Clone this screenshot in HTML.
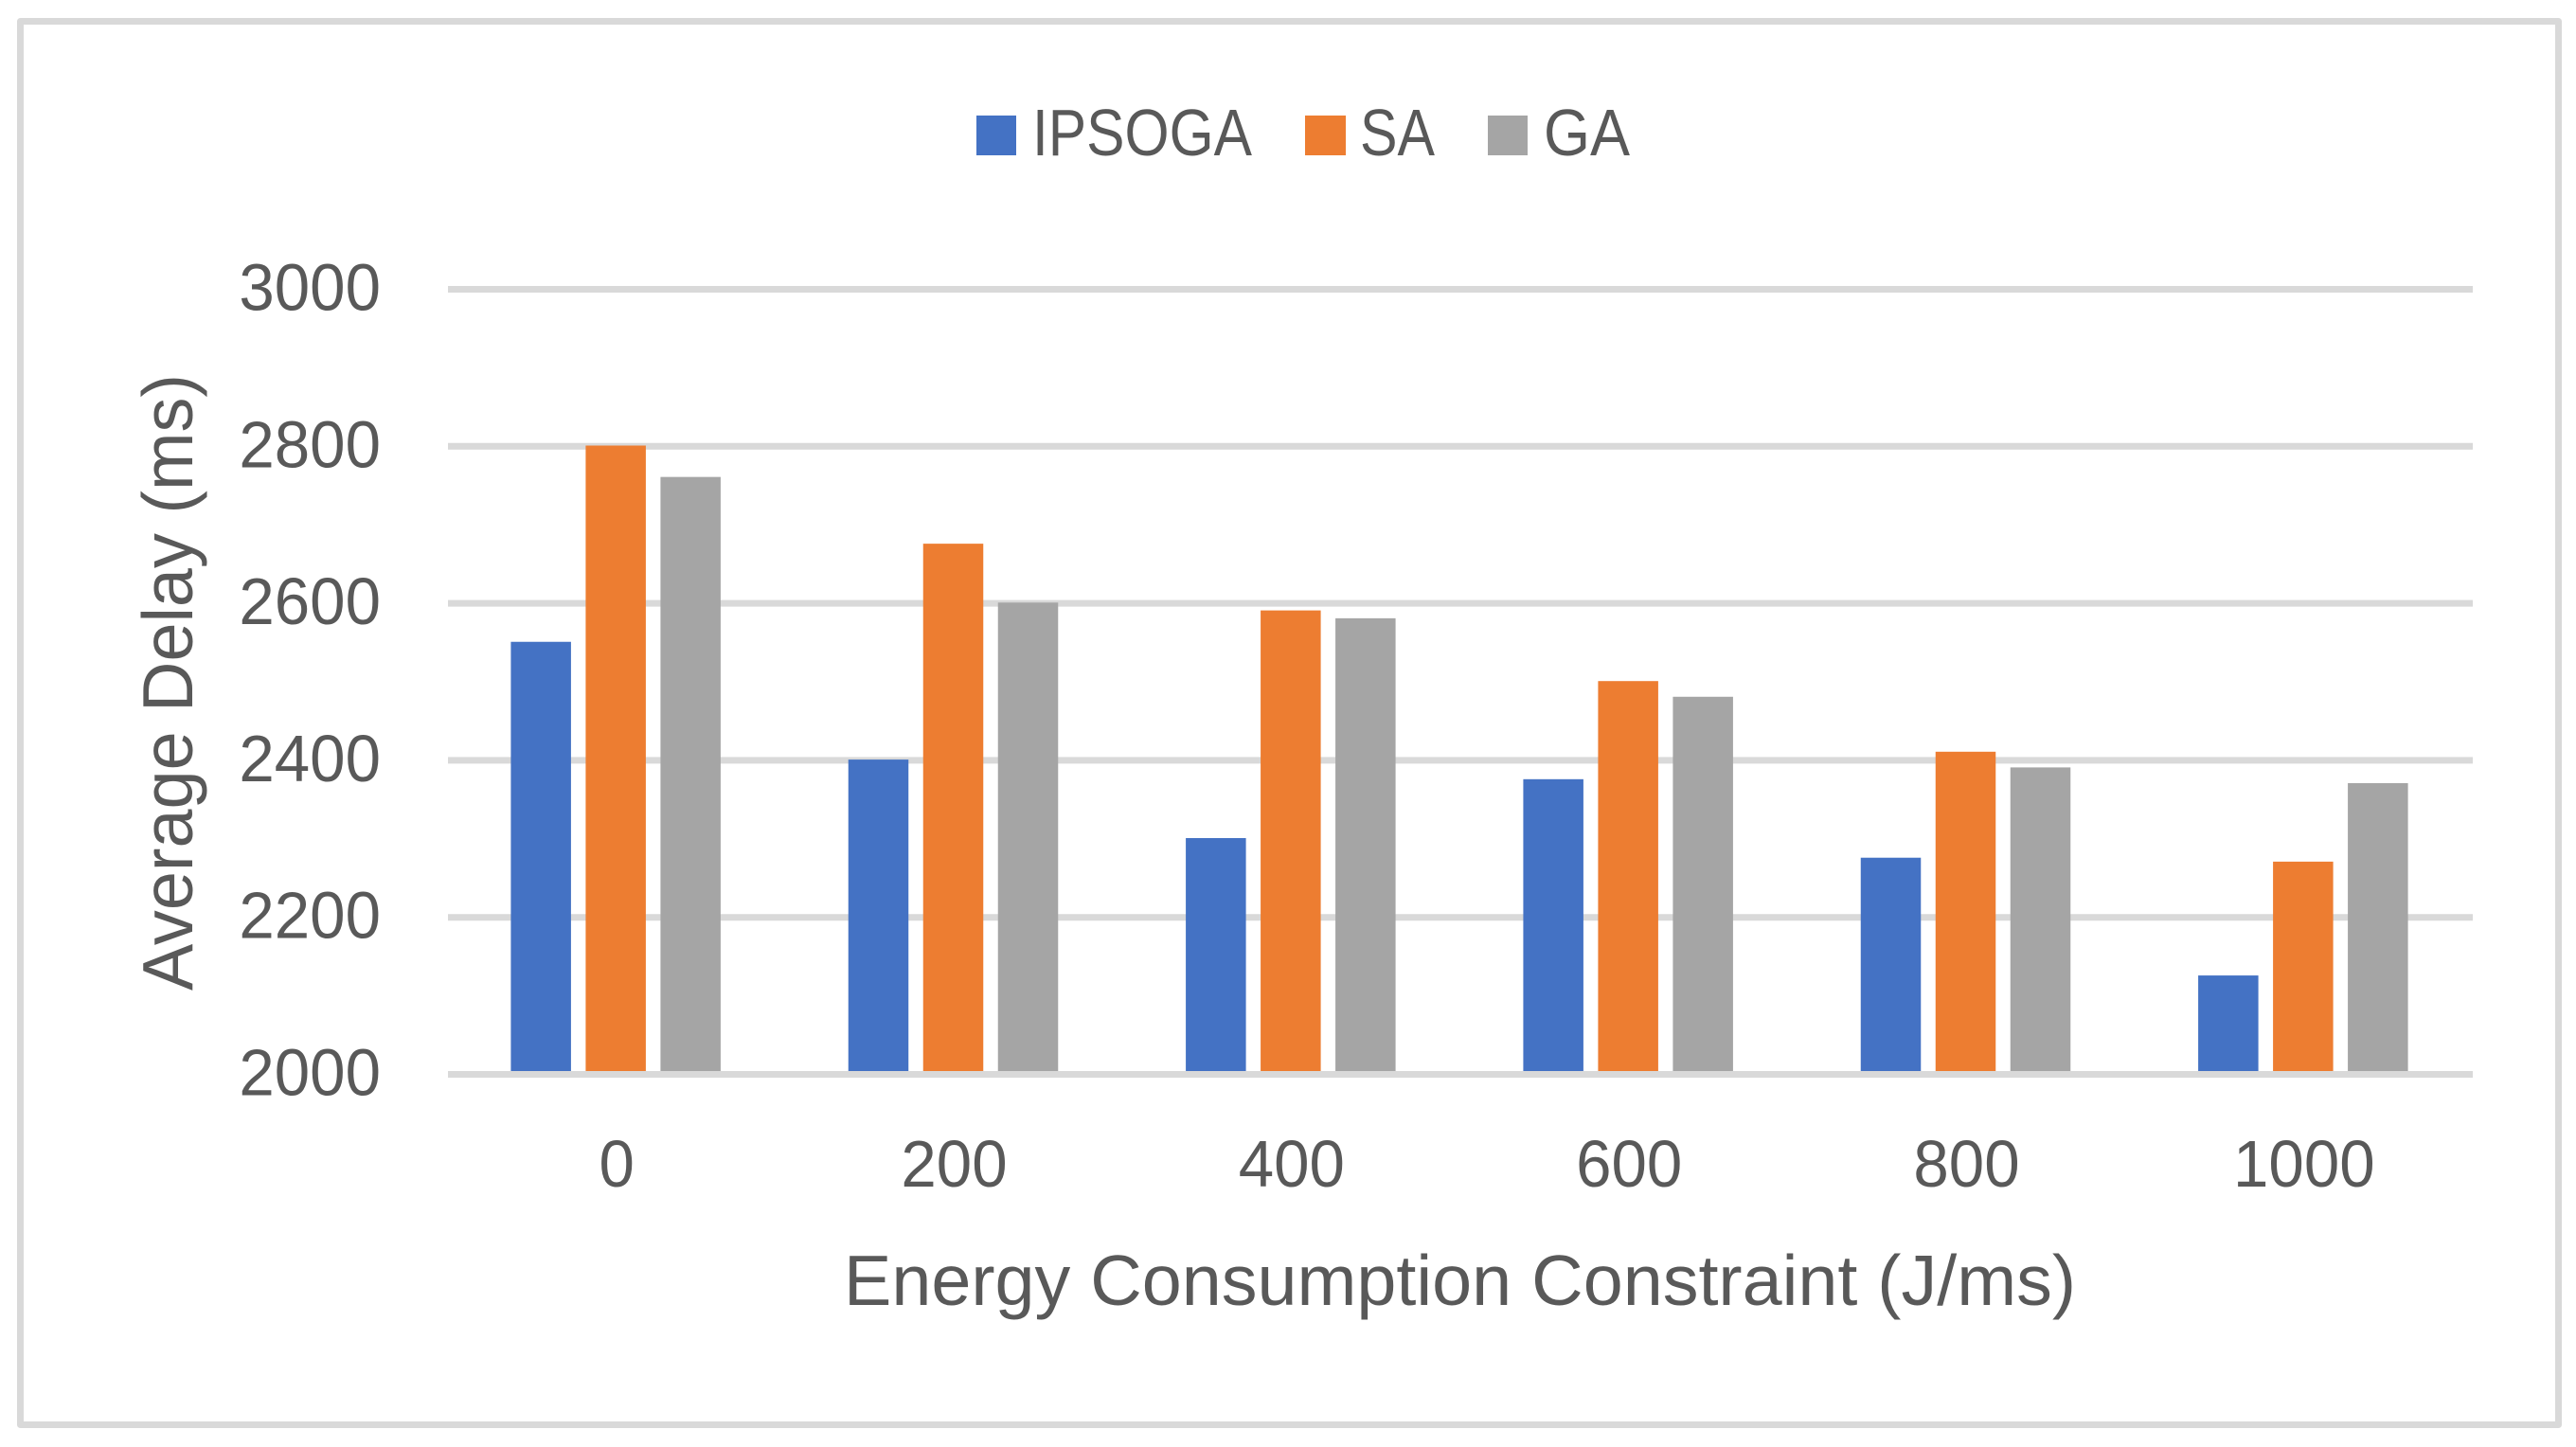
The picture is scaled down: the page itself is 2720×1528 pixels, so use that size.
<!DOCTYPE html>
<html lang="en">
<head>
<meta charset="utf-8">
<title>Average Delay vs Energy Consumption Constraint</title>
<style>
html,body{margin:0;padding:0;background:#fff;width:2720px;height:1528px;overflow:hidden}
svg{display:block}
text{font-family:"Liberation Sans",sans-serif;fill:#595959}
</style>
</head>
<body>
<svg id="chart" xmlns="http://www.w3.org/2000/svg" width="2720" height="1528" viewBox="0 0 2720 1528">
  <rect x="0" y="0" width="2720" height="1528" fill="#ffffff"/>
  <rect x="21.5" y="22.5" width="2680" height="1482" fill="#ffffff" stroke="#d9d9d9" stroke-width="7" stroke-linejoin="round"/>
  <g id="grid"></g>
  <g id="bars"></g>
  <g id="axis"></g>
  <g id="yticks"></g>
  <g id="xticks"></g>
  <text transform="translate(203 1046) rotate(-90)" x="0" y="0" font-size="75" textLength="651" lengthAdjust="spacingAndGlyphs">Average Delay (ms)</text>
  <text x="891" y="1378" font-size="75" textLength="1301" lengthAdjust="spacingAndGlyphs">Energy Consumption Constraint (J/ms)</text>
  <g>
    <g>
      <rect x="1031" y="122" width="42" height="42" fill="#4472c4"/>
      <text x="1090" y="164" font-size="70" textLength="232" lengthAdjust="spacingAndGlyphs">IPSOGA</text>
    </g>
    <g>
      <rect x="1378" y="122" width="43" height="42" fill="#ed7d31"/>
      <text x="1436" y="164" font-size="70" textLength="79" lengthAdjust="spacingAndGlyphs">SA</text>
    </g>
    <g>
      <rect x="1571" y="122" width="42" height="42" fill="#a5a5a5"/>
      <text x="1630" y="164" font-size="70" textLength="91" lengthAdjust="spacingAndGlyphs">GA</text>
    </g>
  </g>
</svg>
<script>
var categories = ['0', '200', '400', '600', '800', '1000'];
var ipsogaValues = [2550, 2400, 2300, 2375, 2275, 2125];
var saValues = [2800, 2675, 2590, 2500, 2410, 2270];
var gaValues = [2760, 2600, 2580, 2480, 2390, 2370];
var yTickValues = [2000, 2200, 2400, 2600, 2800, 3000];

var NS = 'http://www.w3.org/2000/svg';
var plotLeft = 473, plotRight = 2611, yAt2000 = 1134.5, yAt3000 = 305.5;
var barWidth = 63.5, barPitch = 79, barShiftX = -1, barShiftY = -0.8;
var tickFont = 70, tickDigitWidth = 37.4;

function yScale(v) {
  return yAt2000 + (v - 2000) / 1000 * (yAt3000 - yAt2000);
}
function xCenter(i) {
  return plotLeft + (plotRight - plotLeft) / categories.length * (i + 0.5);
}
function drawBars(values, seriesIndex, color, seriesName) {
  var g = document.getElementById('bars');
  values.forEach(function (v, i) {
    var r = document.createElementNS(NS, 'rect');
    var cx = xCenter(i) + barShiftX + (seriesIndex - 1) * barPitch;
    var top = yScale(v) + barShiftY;
    r.setAttribute('x', cx - barWidth / 2);
    r.setAttribute('y', top);
    r.setAttribute('width', barWidth);
    r.setAttribute('height', yAt2000 - top);
    r.setAttribute('fill', color);
    
    
    g.appendChild(r);
  });
}

yTickValues.forEach(function (t) {
  var isBase = t === yTickValues[0];
  var line = document.createElementNS(NS, 'line');
  line.setAttribute('x1', plotLeft);
  line.setAttribute('x2', plotRight);
  line.setAttribute('y1', yScale(t));
  line.setAttribute('y2', yScale(t));
  line.setAttribute('stroke', '#d9d9d9');
  line.setAttribute('stroke-width', '7');
  
  
  document.getElementById(isBase ? 'axis' : 'grid').appendChild(line);

  var label = document.createElementNS(NS, 'text');
  label.setAttribute('x', 402);
  label.setAttribute('y', yScale(t) + 22);
  label.setAttribute('font-size', tickFont);
  label.setAttribute('text-anchor', 'end');
  label.setAttribute('textLength', String(t).length * tickDigitWidth);
  label.setAttribute('lengthAdjust', 'spacingAndGlyphs');
  
  
  label.textContent = String(t);
  document.getElementById('yticks').appendChild(label);
});

categories.forEach(function (c, i) {
  var label = document.createElementNS(NS, 'text');
  label.setAttribute('x', xCenter(i));
  label.setAttribute('y', 1253);
  label.setAttribute('font-size', tickFont);
  label.setAttribute('text-anchor', 'middle');
  label.setAttribute('textLength', c.length * tickDigitWidth);
  label.setAttribute('lengthAdjust', 'spacingAndGlyphs');
  
  
  label.textContent = c;
  document.getElementById('xticks').appendChild(label);
});

drawBars(ipsogaValues, 0, '#4472c4', 'ipsoga');
drawBars(saValues, 1, '#ed7d31', 'sa');
drawBars(gaValues, 2, '#a5a5a5', 'ga');
</script>
</body>
</html>
